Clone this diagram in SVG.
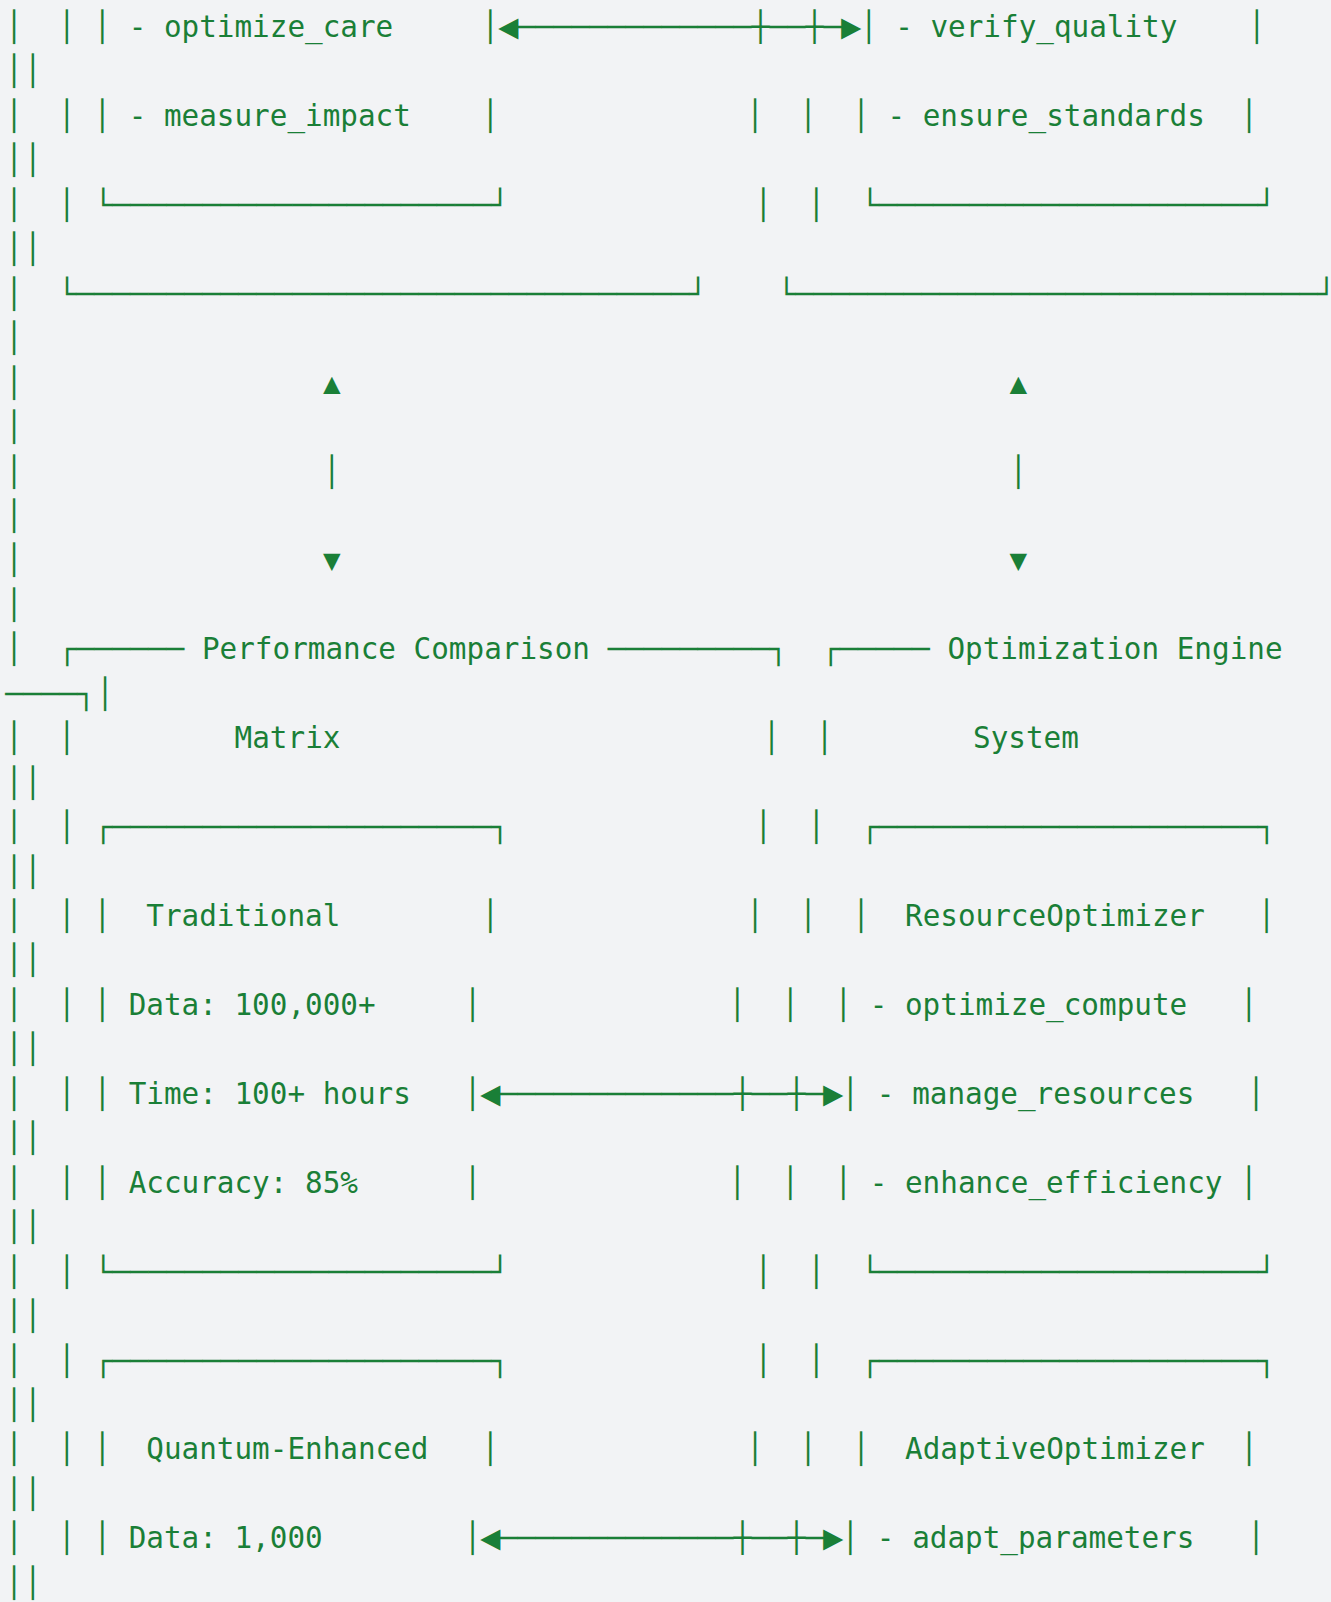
<svg xmlns="http://www.w3.org/2000/svg" width="1331" height="1602" viewBox="0 0 1331 1602">
<style>
.t{font-family:"DejaVu Sans Mono","Liberation Mono",monospace;font-size:29.3px;fill:#1a7f37;white-space:pre}
.m{text-anchor:middle}
.a{font-family:"Liberation Mono","DejaVu Sans Mono",monospace;font-size:35px;fill:#1a7f37;text-anchor:middle}
</style>
<rect width="1331" height="1602" fill="#f2f3f5"/>
<g id="frame">
<text class="t" x="5.2 23.9" y="81.45">││</text>
<text class="t" x="5.2 23.9" y="170.35">││</text>
<text class="t" x="5.2 23.9" y="259.25">││</text>
<text class="t" x="5.2" y="303.7">│</text>
<text class="t" x="5.2" y="348.15">│</text>
<text class="t" x="5.2" y="392.6">│</text>
<text class="t" x="5.2" y="437.05">│</text>
<text class="t" x="5.2" y="481.5">│</text>
<text class="t" x="5.2" y="525.95">│</text>
<text class="t" x="5.2" y="570.4">│</text>
<text class="t" x="5.2" y="614.85">│</text>
<text class="t" x="5.2" y="659.3">│</text>
<text class="t" x="5.2 23.9" y="792.65">││</text>
<text class="t" x="5.2 23.9" y="881.55">││</text>
<text class="t" x="5.2 23.9" y="970.45">││</text>
<text class="t" x="5.2 23.9" y="1059.35">││</text>
<text class="t" x="5.2 23.9" y="1148.25">││</text>
<text class="t" x="5.2 23.9" y="1237.15">││</text>
<text class="t" x="5.2 23.9" y="1326.05">││</text>
<text class="t" x="5.2 23.9" y="1414.95">││</text>
<text class="t" x="5.2 23.9" y="1503.85">││</text>
<text class="t" x="5.2 23.9" y="1592.75">││</text>
</g>
<g id="node-top-left">
<text class="t" x="5.2" y="37">│  │ │ - optimize_care     │</text>
<text class="t" x="5.2" y="125.9">│  │ │ - measure_impact    │</text>
<text class="t" x="5.2" y="214.8">│  │</text>
<text class="t" x="94.3" y="214.8" textLength="414.7" lengthAdjust="spacingAndGlyphs">└─────────────────────┘</text>
<text class="t" x="58" y="303.7" textLength="649" lengthAdjust="spacingAndGlyphs">└──────────────────────────────────┘</text>
</g>
<g id="node-top-right">
<text class="t" x="859.9" y="37">│ - verify_quality    │</text>
<text class="t" x="746.3" y="125.9">│  │  │ - ensure_standards  │</text>
<text class="t" x="754.5" y="214.8">│  │</text>
<text class="t" x="861" y="214.8" textLength="414.7" lengthAdjust="spacingAndGlyphs">└─────────────────────┘</text>
<text class="t" x="777.6" y="303.7" textLength="558" lengthAdjust="spacingAndGlyphs">└─────────────────────────────┘</text>
</g>
<g id="node-performance-matrix">
<text class="t" x="58.3" y="659.3" textLength="126" lengthAdjust="spacingAndGlyphs">┌──────</text>
<text class="t" x="184.3" y="659.3"> Performance Comparison </text>
<text class="t" x="607.8" y="659.3" textLength="179.6" lengthAdjust="spacingAndGlyphs">─────────┐</text>
<text class="t" x="5.2" y="748.2">│  │</text>
<text class="t" x="234.6" y="748.2">Matrix</text>
<text class="t" x="5.2" y="837.1">│  │</text>
<text class="t" x="94.3" y="837.1" textLength="414.7" lengthAdjust="spacingAndGlyphs">┌─────────────────────┐</text>
<text class="t" x="5.2" y="926">│  │ │  Traditional        │</text>
<text class="t" x="5.2" y="1014.9">│  │ │ Data: 100,000+     │</text>
<text class="t" x="5.2" y="1103.8">│  │ │ Time: 100+ hours   │</text>
<text class="t" x="5.2" y="1192.7">│  │ │ Accuracy: 85%      │</text>
<text class="t" x="5.2" y="1281.6">│  │</text>
<text class="t" x="94.3" y="1281.6" textLength="414.7" lengthAdjust="spacingAndGlyphs">└─────────────────────┘</text>
<text class="t" x="5.2" y="1370.5">│  │</text>
<text class="t" x="94.3" y="1370.5" textLength="414.7" lengthAdjust="spacingAndGlyphs">┌─────────────────────┐</text>
<text class="t" x="5.2" y="1459.4">│  │ │  Quantum-Enhanced   │</text>
<text class="t" x="5.2" y="1548.3">│  │ │ Data: 1,000        │</text>
</g>
<g id="node-optimization-engine">
<text class="t" x="821.8" y="659.3" textLength="108" lengthAdjust="spacingAndGlyphs">┌─────</text>
<text class="t" x="929.8" y="659.3"> Optimization Engine</text>
<text class="t" x="5.2" y="703.75" textLength="90" lengthAdjust="spacingAndGlyphs">────┐</text>
<text class="t" x="96.2" y="703.75">│</text>
<text class="t" x="762.8" y="748.2">│  │</text>
<text class="t" x="973" y="748.2">System</text>
<text class="t" x="754.5" y="837.1">│  │</text>
<text class="t" x="861" y="837.1" textLength="414.7" lengthAdjust="spacingAndGlyphs">┌─────────────────────┐</text>
<text class="t" x="746.3" y="926">│  │  │  ResourceOptimizer   │</text>
<text class="t" x="728.6" y="1014.9">│  │  │ - optimize_compute   │</text>
<text class="t" x="841.6" y="1103.8">│ - manage_resources   │</text>
<text class="t" x="728.6" y="1192.7">│  │  │ - enhance_efficiency │</text>
<text class="t" x="754.5" y="1281.6">│  │</text>
<text class="t" x="861" y="1281.6" textLength="414.7" lengthAdjust="spacingAndGlyphs">└─────────────────────┘</text>
<text class="t" x="754.5" y="1370.5">│  │</text>
<text class="t" x="861" y="1370.5" textLength="414.7" lengthAdjust="spacingAndGlyphs">┌─────────────────────┐</text>
<text class="t" x="746.3" y="1459.4">│  │  │  AdaptiveOptimizer  │</text>
<text class="t" x="841.6" y="1548.3">│ - adapt_parameters   │</text>
</g>
<g id="connectors">
<text class="a" x="508.7" y="39">◄</text>
<text class="t" x="517.6" y="37" textLength="324" lengthAdjust="spacingAndGlyphs">─────────────┼──┼─</text>
<text class="a" x="850.7" y="39">►</text>
<text class="a" x="490.7" y="1105.8">◄</text>
<text class="t" x="499.6" y="1103.8" textLength="324" lengthAdjust="spacingAndGlyphs">─────────────┼──┼─</text>
<text class="a" x="832.7" y="1105.8">►</text>
<text class="a" x="490.7" y="1550.3">◄</text>
<text class="t" x="499.6" y="1548.3" textLength="324" lengthAdjust="spacingAndGlyphs">─────────────┼──┼─</text>
<text class="a" x="832.7" y="1550.3">►</text>
<text class="t m" x="331.7" y="392.6">▲</text>
<text class="t m" x="1018.4" y="392.6">▲</text>
<text class="t m" x="331.7" y="481.5">│</text>
<text class="t m" x="1018.4" y="481.5">│</text>
<text class="t m" x="331.7" y="570.4">▼</text>
<text class="t m" x="1018.4" y="570.4">▼</text>
</g>
</svg>
